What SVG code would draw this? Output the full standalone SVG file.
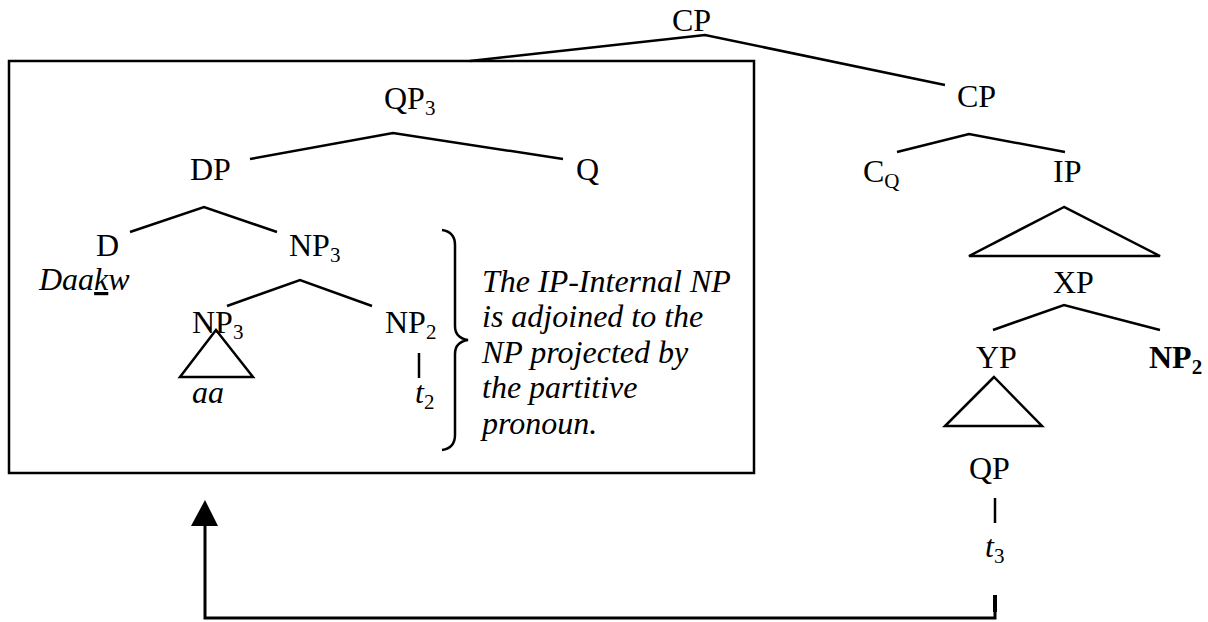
<svg xmlns="http://www.w3.org/2000/svg" width="1208" height="622" viewBox="0 0 1208 622">
<defs>
<style>
.t{font-family:"Liberation Serif","Times New Roman",serif;font-size:32px;fill:#000}
.i{font-style:italic}
.b{font-weight:bold}
.s{font-size:21px}
.n{font-family:"Liberation Serif","Times New Roman",serif;font-size:32px;font-style:italic;fill:#000}
.ln{stroke:#000;stroke-width:2.5;fill:none;stroke-linecap:butt;stroke-linejoin:miter}
</style>
</defs>
<rect width="1208" height="622" fill="#fff"/>
<rect id="box" x="9" y="61" width="745" height="412" class="ln"/>
<g id="connectors">
<polyline class="ln" points="470,61 705,35 945,85"/>
<polyline class="ln" points="250,159 393,133 563,159"/>
<polyline class="ln" points="130,232 204,207 277,232"/>
<polyline class="ln" points="227,306 300,280 372,306"/>
<polygon class="ln" points="216,330 180,377 253,377"/>
<line class="ln" x1="419" y1="353" x2="419" y2="378"/>
<path class="ln" d="M442,230 Q455,232 455,245 L455,326 Q455,338 468,340 Q455,342 455,354 L455,435 Q455,448 442,450"/>
<polyline class="ln" points="897,152 969,134 1065,152"/>
<polygon class="ln" points="1064,207 969,256 1160,256"/>
<polyline class="ln" points="993,330 1064,305 1160,330"/>
<polygon class="ln" points="994,377 945,426 1042,426"/>
<line class="ln" x1="995" y1="498" x2="995" y2="523"/>
<line x1="995" y1="595" x2="995" y2="612" stroke="#000" stroke-width="4"/>
<path d="M995,600 L995,618 L205,618 L205,525" stroke="#000" stroke-width="3" fill="none"/>
<polygon points="205,500 191,526 218,526" fill="#000"/>
</g>
<g id="n-cp-top"><text class="t" x="672" y="31">CP</text></g>
<g id="n-qp3"><text class="t" x="384" y="109">QP<tspan class="s" dy="6">3</tspan></text></g>
<g id="n-cp2"><text class="t" x="957" y="107">CP</text></g>
<g id="n-dp"><text class="t" x="190" y="180">DP</text></g>
<g id="n-q"><text class="t" x="576" y="180">Q</text></g>
<g id="n-cq"><text class="t" x="863" y="182">C<tspan class="s" dy="6">Q</tspan></text></g>
<g id="n-ip"><text class="t" x="1053" y="182">IP</text></g>
<g id="n-d"><text class="t" x="96" y="256">D</text></g>
<g id="n-np3"><text class="t" x="289" y="256">NP<tspan class="s" dy="6">3</tspan></text></g>
<g id="n-daakw"><text class="t i" x="39" y="290">Daa<tspan text-decoration="underline">k</tspan>w</text></g>
<g id="n-xp"><text class="t" x="1053" y="293">XP</text></g>
<g id="n-np3b"><text class="t" x="192" y="333">NP<tspan class="s" dy="6">3</tspan></text></g>
<g id="n-np2"><text class="t" x="385" y="333">NP<tspan class="s" dy="6">2</tspan></text></g>
<g id="n-yp"><text class="t" x="976" y="368">YP</text></g>
<g id="n-np2b"><text class="t b" x="1149" y="368">NP<tspan class="s" dy="6">2</tspan></text></g>
<g id="n-aa"><text class="t i" x="192" y="403">aa</text></g>
<g id="n-t2"><text class="t" x="415" y="403"><tspan class="i">t</tspan><tspan class="s" dy="6">2</tspan></text></g>
<g id="n-qp"><text class="t" x="969" y="479">QP</text></g>
<g id="n-t3"><text class="t" x="985" y="557"><tspan class="i">t</tspan><tspan class="s" dy="6">3</tspan></text></g>
<g id="n-note">
<text class="n" x="482" y="292">The IP-Internal NP</text>
<text class="n" x="482" y="327">is adjoined to the</text>
<text class="n" x="482" y="363">NP projected by</text>
<text class="n" x="482" y="398">the partitive</text>
<text class="n" x="482" y="434">pronoun.</text>
</g>
</svg>
